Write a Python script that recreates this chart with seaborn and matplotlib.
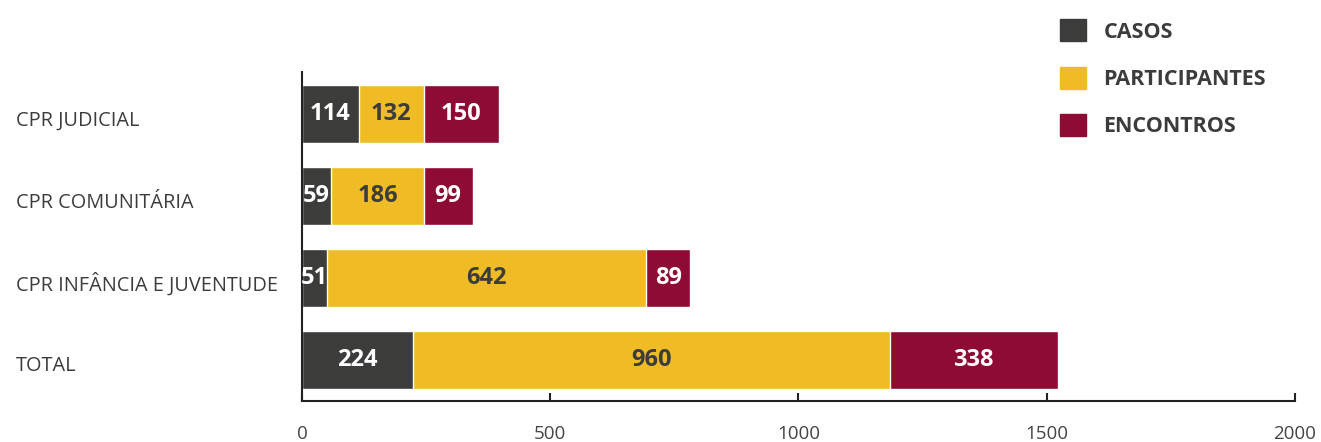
import matplotlib
matplotlib.use("Agg")
import matplotlib.pyplot as plt
import matplotlib.patches as mpatches
import matplotlib.transforms as mtransforms
import numpy as np
import pandas as pd
import seaborn as sns

categorias = ["CPR JUDICIAL", "CPR COMUNITÁRIA", "CPR INFÂNCIA E JUVENTUDE", "TOTAL"]
casos = [114, 59, 51, 224]
participantes = [132, 186, 642, 960]
encontros = [150, 99, 89, 338]
series = ["CASOS", "PARTICIPANTES", "ENCONTROS"]
cores = ["#3c3c3b", "#f0bc25", "#8e0b33"]
cor_texto = ["white", "#3c3c3b", "white"]

sns.set_style("white")
plt.rcParams["font.family"] = ["Open Sans", "DejaVu Sans"]

df = pd.DataFrame({"cat": categorias, "CASOS": casos,
                   "PARTICIPANTES": participantes, "ENCONTROS": encontros})
df["c1"] = df["CASOS"]
df["c2"] = df["c1"] + df["PARTICIPANTES"]
df["c3"] = df["c2"] + df["ENCONTROS"]

fig = plt.figure(figsize=(13.21, 4.42), dpi=100)
ax = fig.add_axes([0.2286, 0.0928, 0.7517, 0.7442])

# stacked: draw the cumulative totals from the longest to the shortest
for col, cor in zip(["c3", "c2", "c1"], cores[::-1]):
    sns.barplot(data=df, x=col, y="cat", orient="h", color=cor,
                width=0.707, saturation=1, ax=ax, order=categorias)

for i in range(len(categorias)):
    left = 0
    for s, cor_t in zip(series, cor_texto):
        v = df.loc[i, s]
        ax.text(left + v / 2, i, str(v), ha="center", va="center",
                color=cor_t, fontsize=17, fontweight="bold")
        left += v

ax.set_xlim(0, 2000)
ax.set_ylim(3.5, -0.512)
ax.set_xlabel("")
ax.set_ylabel("")
ax.set_xticks([0, 500, 1000, 1500, 2000])
ax.tick_params(axis="x", direction="in", length=6, width=1.5, color="#222222",
               labelsize=13.5, labelcolor="#444444", pad=17.5, bottom=True)
ax.tick_params(axis="y", length=0, labelsize=14.3, labelcolor="#3c3c3b", pad=206)
desloc = mtransforms.ScaledTranslation(0, -4 / 100, fig.dpi_scale_trans)
for lab in ax.get_yticklabels():
    lab.set_ha("left")
    lab.set_transform(lab.get_transform() + desloc)

for side in ["top", "right"]:
    ax.spines[side].set_visible(False)
for side in ["left", "bottom"]:
    ax.spines[side].set_color("#222222")
    ax.spines[side].set_linewidth(1.5)

handles = [mpatches.Patch(color=c, label=s) for s, c in zip(series, cores)]
leg = fig.legend(handles=handles, loc="upper left", bbox_to_anchor=(0.788, 1.0),
                 frameon=False, handlelength=1.2, handleheight=1.2,
                 handletextpad=0.8, labelspacing=1.12,
                 prop={"size": 15.5, "weight": "bold"})
for t in leg.get_texts():
    t.set_color("#3c3c3b")

fig.savefig("out.png", dpi=100)
